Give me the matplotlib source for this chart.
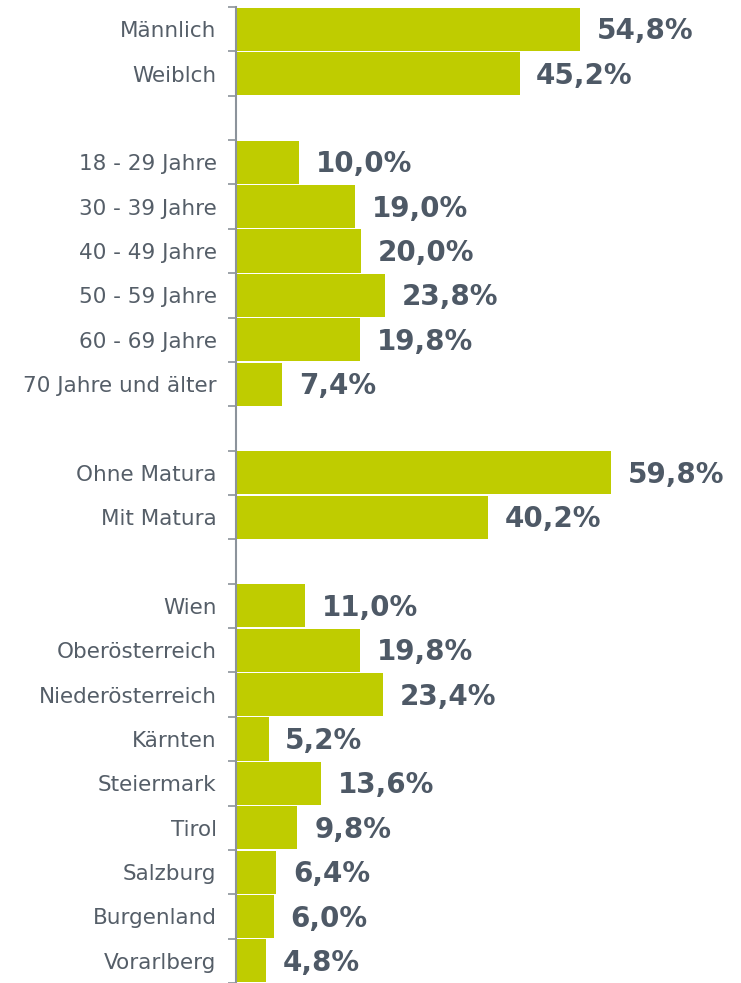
import matplotlib
matplotlib.use("Agg")
import matplotlib.pyplot as plt

categories = ["Männlich", "Weiblch", "",
              "18 - 29 Jahre", "30 - 39 Jahre", "40 - 49 Jahre", "50 - 59 Jahre",
              "60 - 69 Jahre", "70 Jahre und älter", "",
              "Ohne Matura", "Mit Matura", "",
              "Wien", "Oberösterreich", "Niederösterreich", "Kärnten", "Steiermark",
              "Tirol", "Salzburg", "Burgenland", "Vorarlberg"]
values = [54.8, 45.2, None,
          10.0, 19.0, 20.0, 23.8, 19.8, 7.4, None,
          59.8, 40.2, None,
          11.0, 19.8, 23.4, 5.2, 13.6, 9.8, 6.4, 6.0, 4.8]

bar_color = "#bfcc00"
text_color = "#4e5966"
axis_color = "#8c939b"

fig = plt.figure(figsize=(7.41, 9.83), dpi=100)
ax = fig.add_axes([236 / 741, 0.0, 505 / 741, 976 / 983])

n = len(categories)
ypos = list(range(n))
for y, v in zip(ypos, values):
    if v is None:
        continue
    ax.barh(y, v, height=0.97, color=bar_color, edgecolor="none")
    ax.annotate(f"{v:.1f}%".replace(".", ","), (v, y), xytext=(12, -1.5),
                textcoords="offset points", va="center", ha="left",
                fontsize=20, fontweight="bold", color=text_color)

ax.set_xlim(0, 80.5)
ax.set_ylim(n - 0.5, -0.5)

# boundaries as major ticks, names as minor ticks at row centres
ax.set_yticks([i - 0.5 for i in range(n + 1)])
ax.set_yticklabels([])
ax.set_yticks(ypos, minor=True)
ax.set_yticklabels(categories, minor=True, fontsize=15.5, color="#555e68")
ax.tick_params(axis="y", which="major", length=6, width=1.2, color=axis_color, direction="out")
ax.tick_params(axis="y", which="minor", length=0, pad=14)
ax.set_xticks([])

for s in ["top", "right", "bottom"]:
    ax.spines[s].set_visible(False)
ax.spines["left"].set_color(axis_color)
ax.spines["left"].set_linewidth(1.5)

plt.savefig("out.png", dpi=100)
